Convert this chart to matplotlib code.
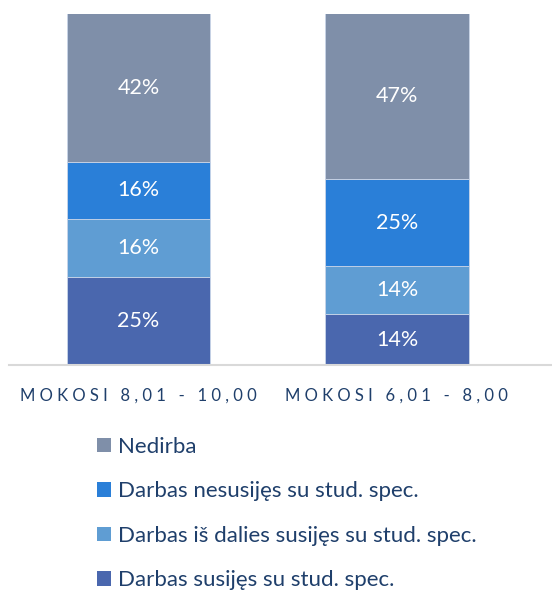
import matplotlib
matplotlib.use("Agg")
import matplotlib.pyplot as plt
from matplotlib.patches import Patch
import numpy as np

plt.rcParams['font.family'] = ['Lato', 'DejaVu Sans']

categories = ["MOKOSI 8,01 - 10,00", "MOKOSI 6,01 - 8,00"]
series_names = ["Darbas susijęs su stud. spec.",
                "Darbas iš dalies susijęs su stud. spec.",
                "Darbas nesusijęs su stud. spec.",
                "Nedirba"]
susijes = [25.1, 14.4]
is_dalies = [16.4, 13.7]
nesusijes = [16.3, 24.8]
nedirba = [42.2, 47.1]
labels = [["25%", "14%"], ["16%", "14%"], ["16%", "25%"], ["42%", "47%"]]
colors = ["#4A67AE", "#5F9DD3", "#2A7FD8", "#7F8FA9"]
text_color = "#1F3F6B"

series = [susijes, is_dalies, nesusijes, nedirba]

fig = plt.figure(figsize=(5.52, 5.92), dpi=100)
ax = fig.add_axes([9/552, 227/592, 543/552, 351.5/592])

x = np.arange(len(categories))
bottom = np.zeros(len(categories))
handles = []
for vals, lab, col, name in zip(series, labels, colors, series_names):
    vals = np.array(vals)
    ax.bar(x, vals, width=0.557, bottom=bottom, color=col,
           edgecolor="#C9D5E8", linewidth=0.6)
    for xi, b, v, t in zip(x, bottom, vals, lab):
        ax.text(xi, b + v / 2, t, ha="center", va="center", color="white",
                fontsize=15.5)
    bottom += vals
    handles.append(Patch(facecolor=col, edgecolor="none", label=name))

ax.set_xlim(-0.501, 1.6)
ax.set_ylim(0, bottom.max())
for s in ["top", "right", "left"]:
    ax.spines[s].set_visible(False)
ax.spines["bottom"].set_color("#D9D9D9")
ax.spines["bottom"].set_linewidth(1.5)
ax.set_yticks([])
ax.set_xticks(x)

def spaced(s):
    return " ".join(" " if c == " " else c for c in s)

ax.set_xticklabels([spaced(c) for c in categories], color=text_color, fontsize=12)
ax.tick_params(axis="x", length=0, pad=16)

leg = fig.legend(handles=handles[::-1], loc="upper left",
                 bbox_to_anchor=(97/552, 1 - 437/592), frameon=False,
                 fontsize=16, handlelength=0.63, handleheight=0.63,
                 handletextpad=0.3, labelspacing=1.1, borderaxespad=0,
                 borderpad=0)
for t in leg.get_texts():
    t.set_color(text_color)

fig.savefig("out.png", dpi=100)
